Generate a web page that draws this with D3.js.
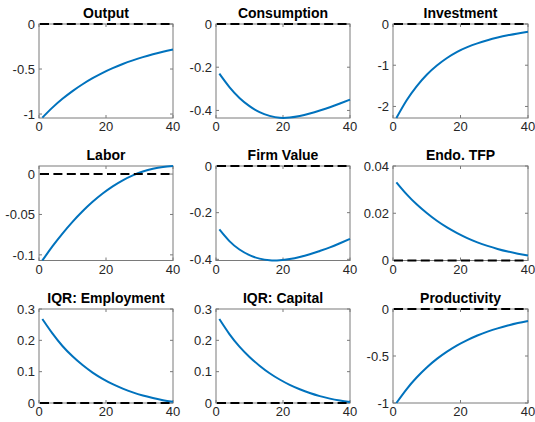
<!DOCTYPE html>
<html><head><meta charset="utf-8">
<script src="https://cdn.jsdelivr.net/npm/d3@7"></script>
<style>body{margin:0;background:#fff}svg{display:block}</style>
</head><body>
<script>
const periods = [1, 4, 7, 10, 13, 16, 19, 22, 25, 28, 31, 34, 37, 40];
const titles = ["Output", "Consumption", "Investment", "Labor", "Firm Value", "Endo. TFP", "IQR: Employment", "IQR: Capital", "Productivity"];
const output       = [-1.040, -0.929, -0.831, -0.745, -0.669, -0.602, -0.542, -0.490, -0.444, -0.404, -0.368, -0.336, -0.308, -0.284];
const consumption  = [-0.230, -0.292, -0.342, -0.380, -0.408, -0.425, -0.434, -0.433, -0.426, -0.414, -0.400, -0.385, -0.368, -0.350];
const investment   = [-2.280, -1.855, -1.510, -1.230, -1.006, -0.824, -0.674, -0.560, -0.469, -0.393, -0.329, -0.274, -0.228, -0.190];
const labor        = [-0.107, -0.0896, -0.0737, -0.0592, -0.0461, -0.0344, -0.0241, -0.0152, -0.0077, -0.0016, 0.0032, 0.0067, 0.0089, 0.0100];
const firmValue    = [-0.272, -0.322, -0.358, -0.382, -0.397, -0.404, -0.404, -0.399, -0.390, -0.378, -0.364, -0.349, -0.331, -0.312];
const endoTFP      = [0.0331, 0.0281, 0.0238, 0.0201, 0.0168, 0.0140, 0.0116, 0.0095, 0.0077, 0.0062, 0.0049, 0.0038, 0.0029, 0.0021];
const iqrEmp       = [0.268, 0.222, 0.182, 0.149, 0.121, 0.097, 0.077, 0.060, 0.046, 0.034, 0.024, 0.016, 0.009, 0.004];
const iqrCap       = [0.268, 0.220, 0.180, 0.147, 0.119, 0.095, 0.075, 0.058, 0.044, 0.032, 0.022, 0.014, 0.008, 0.003];
const productivity = [-1.000, -0.854, -0.729, -0.622, -0.531, -0.454, -0.387, -0.331, -0.282, -0.241, -0.206, -0.176, -0.150, -0.128];
const series = [output, consumption, investment, labor, firmValue, endoTFP, iqrEmp, iqrCap, productivity];
const yLimits = [[-1.044, 0], [-0.435, 0], [-2.28, 0], [-0.107, 0.0100], [-0.405, 0], [0, 0.04], [0, 0.3], [0, 0.3], [-1, 0]];
const yTicks = [[-1, -0.5, 0], [-0.4, -0.2, 0], [-2, -1, 0], [-0.1, -0.05, 0], [-0.4, -0.2, 0], [0, 0.02, 0.04], [0, 0.1, 0.2, 0.3], [0, 0.1, 0.2, 0.3], [-1, -0.5, 0]];
const xTicks = [0, 20, 40];

const W = 535, H = 422;
const colX = [[39, 173], [216, 350], [393, 528]];
const rowY = [[24, 118], [166, 260.5], [309, 403]];

const svg = d3.select("body").append("svg").attr("width", W).attr("height", H)
  .style("font-family", "'Liberation Sans', Arial, Helvetica, sans-serif");

series.forEach((vals, i) => {
  const c = i % 3, r = Math.floor(i / 3);
  const x = d3.scaleLinear().domain([0, 40]).range(colX[c]);
  const y = d3.scaleLinear().domain(yLimits[i]).range([rowY[r][1], rowY[r][0]]);
  const g = svg.append("g");
  const axCol = "#7a7a7a", tl = 3;
  const [x0, x1] = colX[c], [y0, y1] = rowY[r];

  g.append("rect").attr("x", x0).attr("y", y0).attr("width", x1 - x0).attr("height", y1 - y0)
    .attr("fill", "none").attr("stroke", axCol).attr("stroke-width", 1);

  xTicks.forEach(t => {
    const px = x(t);
    g.append("line").attr("x1", px).attr("x2", px).attr("y1", y1).attr("y2", y1 - tl).attr("stroke", axCol);
    g.append("line").attr("x1", px).attr("x2", px).attr("y1", y0).attr("y2", y0 + tl).attr("stroke", axCol);
    g.append("text").attr("x", px).attr("y", y1 + 13).attr("text-anchor", "middle")
      .attr("font-size", 13).attr("fill", "#262626").text(t);
  });
  yTicks[i].forEach(t => {
    const py = y(t);
    g.append("line").attr("x1", x0).attr("x2", x0 + tl).attr("y1", py).attr("y2", py).attr("stroke", axCol);
    g.append("line").attr("x1", x1).attr("x2", x1 - tl).attr("y1", py).attr("y2", py).attr("stroke", axCol);
    g.append("text").attr("x", x0 - 4).attr("y", py).attr("dy", "0.36em").attr("text-anchor", "end")
      .attr("font-size", 13).attr("fill", "#262626").text(String(+t.toFixed(3)));
  });

  const line = d3.line().x((d, j) => x(periods[j])).y(d => y(d)).curve(d3.curveNatural);
  g.append("path").attr("d", line(vals)).attr("fill", "none").attr("stroke", "#0072BD").attr("stroke-width", 2);

  g.append("line").attr("x1", x(0) + 1).attr("x2", x(40)).attr("y1", y(0)).attr("y2", y(0))
    .attr("stroke", "#000").attr("stroke-width", 2).attr("stroke-dasharray", "9,4.4");

  g.append("text").attr("x", (x0 + x1) / 2).attr("y", y0 - 6).attr("text-anchor", "middle")
    .attr("font-size", 14).attr("font-weight", "bold").attr("fill", "#000").text(titles[i]);
});
</script>
</body></html>
